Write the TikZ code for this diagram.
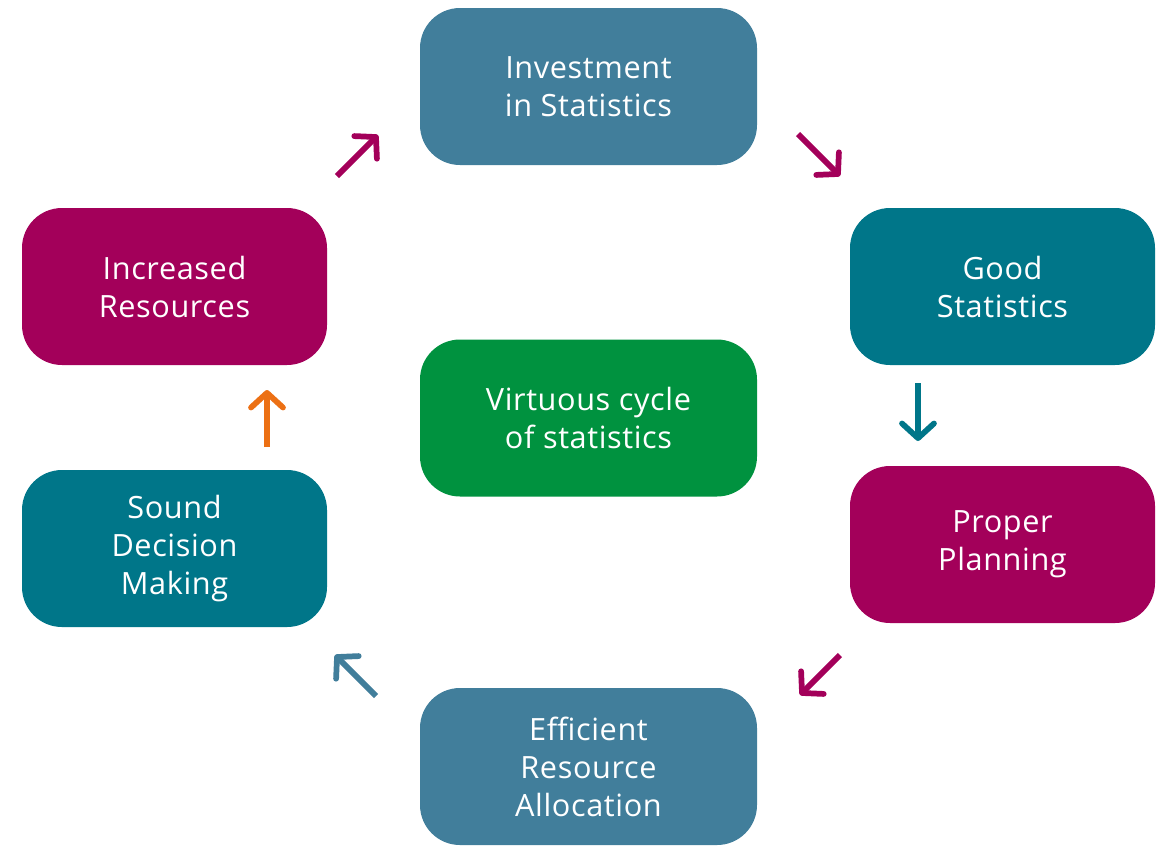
\documentclass[tikz,border=0pt]{standalone}
\usepackage{fontspec}
\setmainfont[LetterSpace=2]{Open Sans}
\usetikzlibrary{arrows.meta}

\definecolor{steel}{RGB}{65,126,155}
\definecolor{tealc}{RGB}{0,118,137}
\definecolor{berry}{RGB}{163,0,90}
\definecolor{leaf}{RGB}{0,146,63}
\definecolor{flame}{RGB}{236,112,20}

\tikzset{
	box/.style={rounded corners=30pt, inner sep=0pt, align=center, text=white,
		minimum height=117.75pt, font=\fontsize{23}{28.5}\selectfont},
	wide/.style={box, minimum width=252.75pt},
	narrow/.style={box, minimum width=228.75pt},
	arr/.style={line width=4.3pt, -{Straight Barb[length=11pt,width=24pt,round=false]}},
}

\begin{document}
\begin{tikzpicture}[x=0.75pt,y=0.75pt,yscale=-1,xscale=1]
	\useasboundingbox (0,0) rectangle (1156,847);
	% boxes
	\node [wide, fill=steel] (invest) at (588.5,86.5) {Investment\\in Statistics};
	\node [narrow, fill=tealc] (good) at (1002.5,286.5) {Good\\Statistics};
	\node [narrow, fill=berry] (plan) at (1002.5,544.5) {Proper\\Planning};
	\node [wide, fill=steel] (alloc) at (588.5,766.5) {Efficient\\Resource\\Allocation};
	\node [narrow, fill=tealc] (sound) at (174.5,548.5) {Sound\\Decision\\Making};
	\node [narrow, fill=berry] (incr) at (174.5,286.5) {Increased\\Resources};
	\node [wide, fill=leaf] (cycle) at (588.5,418) {Virtuous cycle\\of statistics};
	% arrow ends
	\coordinate (a1) at (337,176);
	\coordinate (b1) at (378,135);
	\coordinate (a2) at (798,134);
	\coordinate (b2) at (840,176);
	\coordinate (a3) at (918,383);
	\coordinate (b3) at (918,441);
	\coordinate (a4) at (840,655);
	\coordinate (b4) at (800,695);
	\coordinate (a5) at (376,696);
	\coordinate (b5) at (335,655);
	\coordinate (a6) at (267,447);
	\coordinate (b6) at (267,390);
	% arrows
	\draw [arr, berry] (a1) -- (b1);
	\draw [arr, berry] (a2) -- (b2);
	\draw [arr, tealc] (a3) -- (b3);
	\draw [arr, berry] (a4) -- (b4);
	\draw [arr, steel] (a5) -- (b5);
	\draw [arr, flame] (a6) -- (b6);
\end{tikzpicture}
\end{document}
